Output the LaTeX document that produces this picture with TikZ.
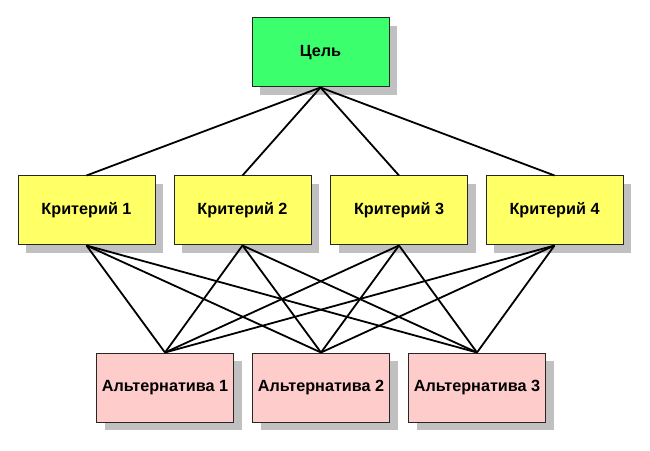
\documentclass[tikz,border=0pt]{standalone}
\usepackage{fontspec}
\setmainfont{Liberation Sans}
\usetikzlibrary{shadows}
\definecolor{goalgreen}{HTML}{3CFF6E}
\definecolor{crityellow}{HTML}{FFFF66}
\definecolor{altpink}{HTML}{FFCCCC}
\definecolor{shadowgray}{HTML}{C0C0C0}
\begin{document}
\begin{tikzpicture}[x=1pt,y=1pt,
  box/.style={draw=black!85, line width=1pt, minimum width=137pt, minimum height=69pt,
    inner sep=0pt, font=\bfseries\fontsize{16.2}{18}\selectfont,
    drop shadow={shadow xshift=8pt, shadow yshift=-8pt, fill=shadowgray, opacity=1}},
  goal/.style={box, fill=goalgreen},
  crit/.style={box, fill=crityellow},
  alt/.style={box, fill=altpink},
  link/.style={line width=1.8pt, black}]
\useasboundingbox (0,0) rectangle (650,450);
\node[goal] (g) at (320.5,397.5) {Цель};
\node[crit] (c1) at (86.5,239.5) {Критерий 1};
\node[crit] (c2) at (242.5,239.5) {Критерий 2};
\node[crit] (c3) at (399,239.5) {Критерий 3};
\node[crit] (c4) at (554.5,239.5) {Критерий 4};
\node[alt] (a1) at (165,62.5) {Альтернатива 1};
\node[alt] (a2) at (321,62.5) {Альтернатива 2};
\node[alt] (a3) at (477,62.5) {Альтернатива 3};
\foreach \c in {c1,c2,c3,c4} {
  \draw[link] (g.south) -- (\c.north);
  \foreach \a in {a1,a2,a3} {
    \draw[link] (\c.south) -- (\a.north);
  }
}
\end{tikzpicture}
\end{document}
